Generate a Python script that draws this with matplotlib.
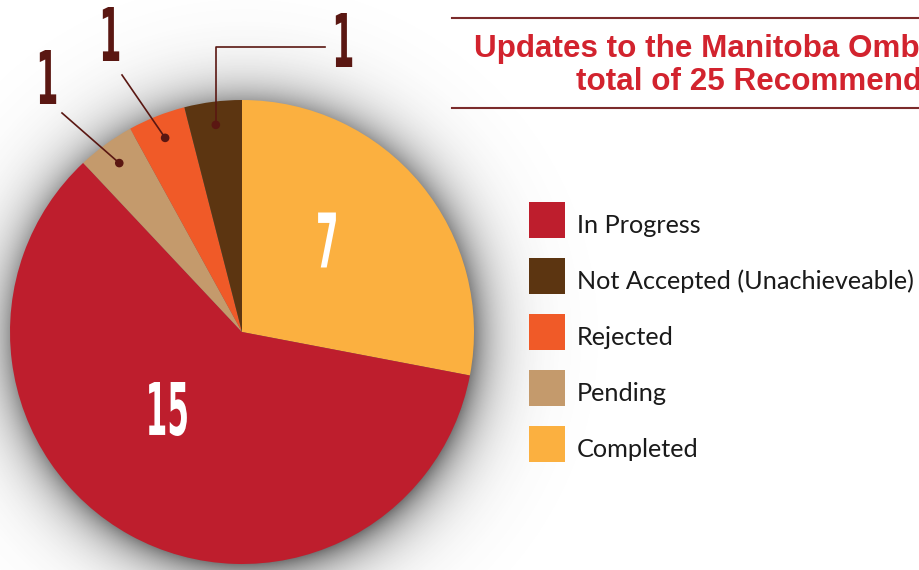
import numpy as np
import matplotlib
matplotlib.use("Agg")
import matplotlib.pyplot as plt
from matplotlib.patches import Rectangle, PathPatch, Circle
from matplotlib.textpath import TextPath
from matplotlib.font_manager import FontProperties
from matplotlib.transforms import Affine2D

# data (pie order, clockwise from 12 o'clock)
categories = ["Completed", "In Progress", "Pending", "Rejected", "Not Accepted (Unachieveable)"]
values = [7, 15, 1, 1, 1]
colors = ["#fbb040", "#be1e2d", "#c49a6c", "#f05a28", "#5c3511"]
legend_order = ["In Progress", "Not Accepted (Unachieveable)", "Rejected", "Pending", "Completed"]
# title is cropped at the right edge in the original
title_lines = ["Updates to the Manitoba Omb", "total of 25 Recommend"]

W, H = 920, 570
cx, cy, R = 242, 332, 232   # pie centre / radius in pixels (top origin)

def Y(y):
    return H - y

def ctext(ax, s, x, y, height, color, sx=0.43):
    # condensed bold number, centred on (x, y) in pixel coords
    tp = TextPath((0, 0), s, size=100, prop=FontProperties(family="DejaVu Sans", weight="bold"))
    bb = tp.get_extents()
    k = height / bb.height
    tr = Affine2D().translate(-bb.x0 - bb.width / 2, -bb.y0 - bb.height / 2).scale(k * sx, k).translate(x, Y(y))
    ax.add_patch(PathPatch(tr.transform_path(tp), fc=color, lw=0, zorder=6))

fig = plt.figure(figsize=(W / 100, H / 100), dpi=100)
ax = fig.add_axes([0, 0, 1, 1])

# soft drop shadow
yy, xx = np.mgrid[0:H, 0:W]
d = np.hypot(xx - cx - 2, yy - cy - 4)
a = 0.8 * np.exp(-np.clip(d - 226, 0, None) / 24.0)
sh = np.zeros((H, W, 4))
sh[..., :3] = 0.28
sh[..., 3] = a
ax.imshow(sh, extent=(0, W, 0, H), origin="upper", zorder=1)

wedges, _ = ax.pie(values, colors=colors, startangle=90, counterclock=False,
                   center=(cx, Y(cy)), radius=R, wedgeprops=dict(linewidth=0))
for w in wedges:
    w.set_zorder(3)

# big numbers inside
ctext(ax, str(values[0]), 327, 240, 55, "white")
ctext(ax, str(values[1]), 168, 409, 54, "white")

# small slices with leader lines
lc = "#5a1712"
label_pos = {2: (48, 77), 3: (111, 34), 4: (344, 40)}
for i, (lx, ly) in label_pos.items():
    w = wedges[i]
    mid = np.deg2rad((w.theta1 + w.theta2) / 2)
    px = cx + 0.9 * R * np.cos(mid)
    py = cy - 0.9 * R * np.sin(mid)
    ax.add_patch(Circle((px, Y(py)), 3.6, color=lc, zorder=6))
    if i == 4:
        ax.plot([px, px, 325], [Y(py), Y(47), Y(47)], color=lc, lw=1.2, zorder=5)
    else:
        ex, ey = (62, 113) if i == 2 else (122, 75)
        ax.plot([px, ex], [Y(py), Y(ey)], color=lc, lw=1.2, zorder=5)
    ctext(ax, str(values[i]), lx, ly, 54, lc)

# title
ax.plot([452, W], [Y(18), Y(18)], color="#7b2b2b", lw=1.5, zorder=5)
ax.plot([452, W], [Y(108), Y(108)], color="#7b2b2b", lw=1.5, zorder=5)
ax.text(474, Y(57), title_lines[0], fontsize=22.6, fontweight="bold", color="#d2232e",
        family="Liberation Sans", va="baseline", ha="left", zorder=6)
ax.text(576, Y(90), title_lines[1], fontsize=22.6, fontweight="bold", color="#d2232e",
        family="Liberation Sans", va="baseline", ha="left", zorder=6)

# legend
ly0, dy = 220, 56
for k, name in enumerate(legend_order):
    c = colors[categories.index(name)]
    yc = ly0 + k * dy
    ax.add_patch(Rectangle((529, Y(yc + 18)), 36, 36, color=c, lw=0, zorder=5))
    ax.text(577, Y(yc + 13), name, fontsize=18.2, family="Lato", color="#1a1a1a",
            va="baseline", ha="left", zorder=6)

ax.set_xlim(0, W)
ax.set_ylim(0, H)
ax.set_aspect("auto")
ax.axis("off")
fig.savefig("out.png", dpi=100)
